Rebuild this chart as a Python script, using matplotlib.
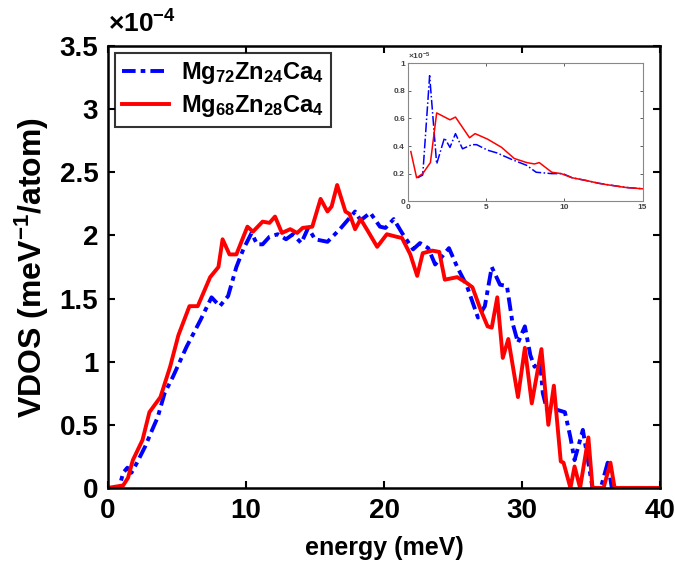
import matplotlib
matplotlib.use('Agg')
import matplotlib.pyplot as plt

plt.rcParams['font.family'] = ['Liberation Sans', 'DejaVu Sans']
plt.rcParams['mathtext.fontset'] = 'custom'
plt.rcParams['mathtext.rm'] = 'Liberation Sans:bold'
plt.rcParams['mathtext.bf'] = 'Liberation Sans:bold'
plt.rcParams['mathtext.it'] = 'Liberation Sans:bold'

# main VDOS curves (x 1e-4)
e_mg72 = [0, 0.8, 1.1, 1.4, 1.7, 2.1, 2.7, 3.2, 3.6, 4.1, 4.7, 5.7, 6.7, 7.5, 8.1, 8.7, 9.3, 9.8,
          10.4, 10.8, 11.2, 11.7, 12.3, 12.9, 13.4, 14.0, 14.5, 15.0, 15.9, 16.8, 17.9, 18.3, 19.0,
          19.7, 20.1, 20.7, 21.3, 22.1, 22.6, 23.2, 23.7, 24.1, 24.7, 25.3, 26.0, 26.8, 27.3, 27.8,
          28.4, 28.9, 29.3, 29.7, 30.2, 30.6, 30.9, 31.3, 31.5, 31.8, 32.5, 33.1, 33.5, 33.8, 34.4,
          35.1, 35.7, 36.2, 36.5, 40]
v_mg72 = [0, 0, 0.12, 0.16, 0.12, 0.2, 0.33, 0.46, 0.56, 0.75, 0.88, 1.12, 1.33, 1.51, 1.44, 1.52,
          1.75, 1.89, 2.02, 1.93, 1.93, 1.99, 2.01, 1.97, 2.01, 1.94, 2.06, 1.97, 1.95, 2.05, 2.19,
          2.12, 2.18, 2.07, 2.06, 2.13, 2.02, 1.89, 1.94, 1.90, 1.77, 1.82, 1.90, 1.75, 1.60, 1.35,
          1.44, 1.75, 1.61, 1.60, 1.31, 1.15, 1.28, 1.05, 0.96, 1.0, 0.75, 0.62, 0.62, 0.60, 0.4,
          0.22, 0.46, 0, 0, 0.2, 0, 0]

e_mg68 = [0, 1.1, 1.45, 1.8, 2.5, 3.0, 3.8, 4.5, 5.1, 5.9, 6.5, 7.4, 8.0, 8.3, 8.8, 9.3, 10.1, 10.5,
          11.2, 11.7, 12.1, 12.6, 13.2, 13.7, 14.1, 14.8, 15.4, 15.9, 16.2, 16.6, 17.2, 17.5, 17.9,
          18.3, 18.8, 19.5, 20.2, 20.9, 21.3, 21.9, 22.4, 22.8, 23.5, 24.0, 24.4, 25.3, 25.9, 26.4,
          27.0, 27.5, 27.8, 28.2, 28.6, 29.0, 29.7, 30.2, 30.7, 31.4, 31.9, 32.3, 32.8, 33.0, 33.5,
          33.8, 34.2, 34.8, 35.1, 35.9, 36.4, 36.7, 40]
v_mg68 = [0, 0.02, 0.08, 0.22, 0.38, 0.6, 0.72, 0.96, 1.21, 1.44, 1.44, 1.67, 1.75, 1.97, 1.85, 1.85,
          2.07, 2.03, 2.11, 2.10, 2.15, 2.02, 2.05, 2.02, 2.06, 2.07, 2.29, 2.19, 2.23, 2.40, 2.19,
          2.17, 2.05, 2.13, 2.04, 1.91, 2.01, 1.99, 1.98, 1.85, 1.68, 1.86, 1.88, 1.87, 1.65, 1.67,
          1.63, 1.59, 1.41, 1.28, 1.27, 1.51, 1.03, 1.18, 0.72, 1.11, 0.67, 1.10, 0.5, 0.81, 0.21,
          0.2, 0, 0.17, 0, 0.40, 0, 0, 0.2, 0, 0]

# inset (x 1e-5)
ei_mg72 = [0.64, 0.96, 1.4, 1.85, 2.35, 2.7, 3.05, 3.5, 4.1, 4.4, 5.1, 5.7, 6.7, 7.6, 8.2, 9.2, 9.9,
           10.5, 11.4, 12.2, 13.9, 15]
vi_mg72 = [0.17, 0.19, 0.91, 0.27, 0.46, 0.39, 0.49, 0.38, 0.41, 0.41, 0.37, 0.35, 0.30, 0.26, 0.21,
           0.20, 0.20, 0.17, 0.15, 0.13, 0.10, 0.09]
ei_mg68 = [0.2, 0.57, 0.96, 1.45, 1.85, 2.7, 3.05, 3.95, 4.3, 5.1, 5.7, 6.0, 6.8, 7.6, 8.1, 8.4, 9.2,
           9.8, 10.5, 11.4, 12.2, 12.7, 13.9, 15]
vi_mg68 = [0.36, 0.17, 0.20, 0.28, 0.64, 0.59, 0.61, 0.46, 0.49, 0.45, 0.41, 0.39, 0.31, 0.28, 0.27,
           0.28, 0.21, 0.20, 0.17, 0.15, 0.13, 0.12, 0.10, 0.09]

labels = [r'$\mathbf{Mg_{72}Zn_{24}Ca_4}$', r'$\mathbf{Mg_{68}Zn_{28}Ca_4}$']

fig = plt.figure(figsize=(6.75, 5.7), dpi=100)
ax = fig.add_axes([0.16, 0.144, 0.818, 0.775])
ax.plot(e_mg72, v_mg72, color='#0000ff', lw=2.8, ls=(0, (3.5, 1.3, 1.2, 1.3)), label=labels[0])
ax.plot(e_mg68, v_mg68, color='#ff0000', lw=2.8, label=labels[1])
ax.set_xlim(0, 40)
ax.set_ylim(0, 3.5)
ax.set_xticks([0, 10, 20, 30, 40])
ax.set_yticks([0, 0.5, 1, 1.5, 2, 2.5, 3, 3.5])
ax.set_yticklabels(['0', '0.5', '1', '1.5', '2', '2.5', '3', '3.5'])
ax.tick_params(direction='in', top=True, right=True, length=5, width=1.5, labelsize=20, pad=7)
for t in ax.get_xticklabels() + ax.get_yticklabels():
    t.set_fontweight('bold')
for s in ax.spines.values():
    s.set_linewidth(1.8)
ax.set_xlabel('energy (meV)', fontsize=18, fontweight='bold', labelpad=9)
ax.set_ylabel(r'VDOS (meV$^{\mathbf{-1}}$/atom)', fontsize=23, fontweight='bold', labelpad=6)
ax.text(0.0, 1.02, r'$\times\mathbf{10^{-4}}$', transform=ax.transAxes, fontsize=19, va='bottom')
leg = ax.legend(loc='upper left', fontsize=17, frameon=True, fancybox=False, handlelength=2.0,
                borderaxespad=0.3, labelspacing=0.3, handletextpad=0.5, borderpad=0.3)
leg.get_frame().set_edgecolor('black')
leg.get_frame().set_linewidth(1.5)

ins = fig.add_axes([0.604, 0.647, 0.348, 0.242])
ins.plot(ei_mg72, vi_mg72, color='#0000ff', lw=1.1, ls='-.')
ins.plot(ei_mg68, vi_mg68, color='#ff0000', lw=1.1)
ins.set_xlim(0, 15)
ins.set_ylim(0, 1)
ins.set_xticks([0, 5, 10, 15])
ins.set_yticks([0, 0.2, 0.4, 0.6, 0.8, 1])
ins.set_yticklabels(['0', '0.2', '0.4', '0.6', '0.8', '1'])
ins.tick_params(direction='in', top=True, right=True, length=2, width=0.6, labelsize=6, pad=2,
                colors='#444444')
for t in ins.get_xticklabels() + ins.get_yticklabels():
    t.set_fontweight('bold')
for s in ins.spines.values():
    s.set_linewidth(0.8)
    s.set_color('#888888')
ins.text(0.0, 1.01, r'$\times\mathbf{10^{-5}}$', transform=ins.transAxes, fontsize=6,
         color='#444444', va='bottom')

fig.savefig('out.png', dpi=100)
